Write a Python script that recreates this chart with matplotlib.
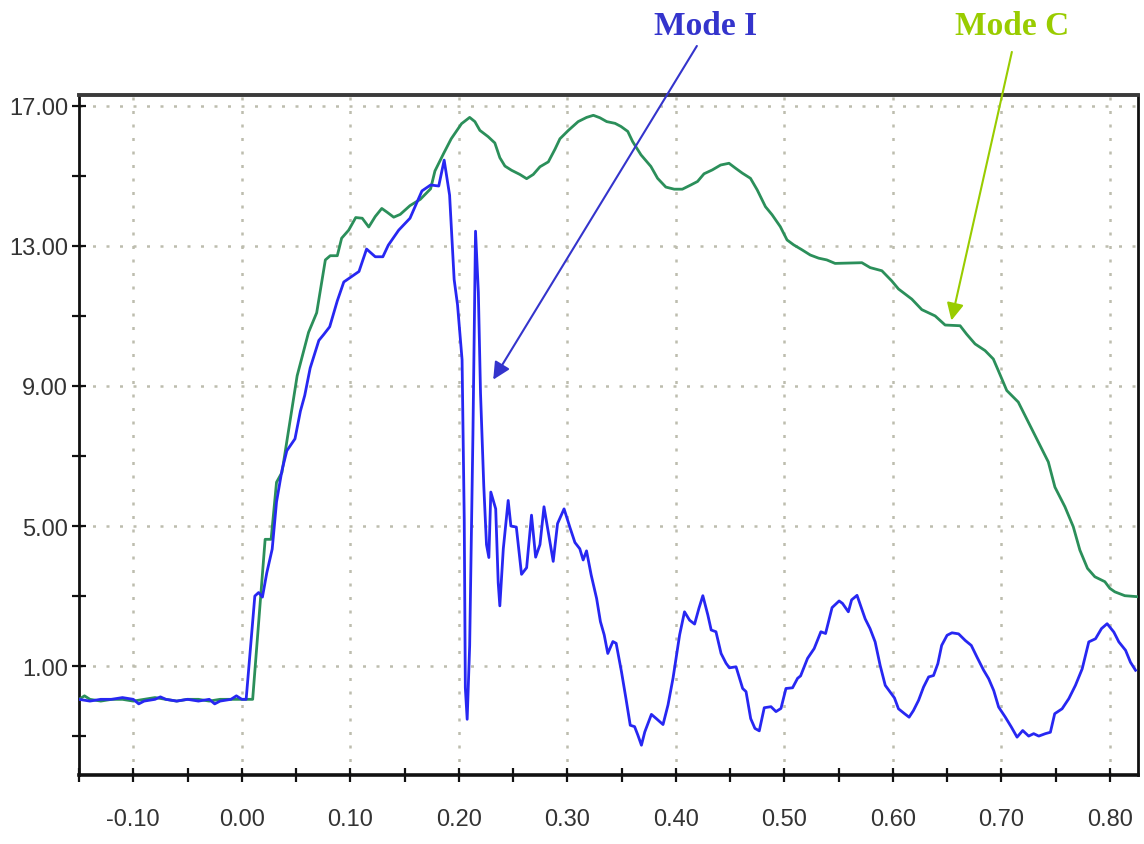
import matplotlib
matplotlib.use("Agg")
import matplotlib.pyplot as plt
from matplotlib.ticker import FixedLocator, FuncFormatter
from matplotlib import font_manager

# ---------------- data ----------------
mode_i_t = [-0.15, -0.14, -0.13, -0.12, -0.11, -0.10, -0.095, -0.09, -0.08, -0.075, -0.07, -0.06,
            -0.05, -0.04, -0.03, -0.025, -0.02, -0.01, -0.005, 0.0, 0.004,
            0.012, 0.0155, 0.019, 0.023, 0.028, 0.032, 0.037, 0.0415, 0.049, 0.054, 0.058, 0.063,
            0.071, 0.0755, 0.081, 0.088, 0.094, 0.100, 0.108, 0.115, 0.123, 0.130, 0.135, 0.1446,
            0.155, 0.166, 0.174, 0.1815, 0.1865, 0.1915, 0.1957, 0.1988, 0.203, 0.205, 0.206,
            0.2077, 0.210, 0.213, 0.2154, 0.218, 0.220, 0.223, 0.2255, 0.2277, 0.2295, 0.234,
            0.2363, 0.2378, 0.241, 0.2455, 0.248, 0.253, 0.2578, 0.2625, 0.267, 0.2708, 0.2748,
            0.2785, 0.2831, 0.287, 0.291, 0.297, 0.3025, 0.307, 0.3115, 0.3146, 0.3177, 0.322,
            0.327, 0.3305, 0.334, 0.3373, 0.342, 0.345, 0.3499, 0.354, 0.358, 0.362, 0.365,
            0.3683, 0.3714, 0.3775, 0.382, 0.3882, 0.3928, 0.3974, 0.4035, 0.408, 0.4127, 0.4173,
            0.4213, 0.4249, 0.4295, 0.4326, 0.437, 0.4417, 0.4463, 0.4494, 0.4555, 0.4616, 0.4647,
            0.469, 0.4729, 0.4769, 0.4815, 0.4877, 0.4923, 0.4969, 0.5015, 0.5076, 0.5122, 0.515,
            0.5214, 0.5275, 0.5337, 0.538, 0.544, 0.5505, 0.5536, 0.559, 0.562, 0.567, 0.5745,
            0.579, 0.5837, 0.5883, 0.593, 0.5975, 0.6015, 0.6052, 0.6108, 0.615, 0.619, 0.6237,
            0.6283, 0.633, 0.6375, 0.6415, 0.645, 0.650, 0.6545, 0.6606, 0.6668, 0.6723, 0.6775,
            0.6837, 0.6883, 0.693, 0.6975, 0.7037, 0.7092, 0.7145, 0.7197, 0.7252, 0.7298, 0.7345,
            0.7406, 0.7452, 0.7492, 0.756, 0.7622, 0.7683, 0.7745, 0.7806, 0.7868, 0.7923, 0.7975,
            0.8037, 0.8083, 0.8145, 0.819, 0.8237]
mode_i_v = [0.05, 0.0, 0.05, 0.05, 0.1, 0.05, -0.08, 0.0, 0.05, 0.12, 0.05, 0.0,
            0.05, 0.0, 0.05, -0.08, 0.0, 0.05, 0.15, 0.05, 0.05,
            3.0, 3.1, 2.97, 3.66, 4.34, 5.69, 6.59, 7.15, 7.49, 8.28, 8.73, 9.51,
            10.3, 10.47, 10.69, 11.43, 11.97, 12.1, 12.27, 12.91, 12.69, 12.69, 13.02, 13.45,
            13.79, 14.57, 14.74, 14.71, 15.45, 14.45, 12.04, 11.32, 9.75, 5.19, 0.38,
            -0.52, 1.58, 7.6, 13.42, 11.68, 8.8, 6.15, 4.47, 4.1, 5.97, 5.49,
            3.38, 2.72, 4.35, 5.73, 5.0, 4.97, 3.62, 3.81, 5.31, 4.11, 4.47,
            5.55, 4.71, 3.99, 5.07, 5.49, 4.95, 4.53, 4.35, 4.03, 4.29, 3.6,
            2.93, 2.27, 1.89, 1.36, 1.7, 1.65, 0.84, 0.08, -0.69, -0.73, -0.97,
            -1.26, -0.88, -0.38, -0.5, -0.67, -0.11, 0.65, 1.89, 2.55, 2.31, 2.2,
            2.65, 3.01, 2.46, 2.03, 1.98, 1.36, 1.08, 0.95, 0.98, 0.36, 0.27,
            -0.5, -0.78, -0.85, -0.19, -0.16, -0.3, -0.21, 0.36, 0.38, 0.65, 0.72,
            1.22, 1.5, 1.98, 1.93, 2.67, 2.86, 2.79, 2.55, 2.89, 3.02, 2.35,
            2.07, 1.69, 1.02, 0.45, 0.26, 0.09, -0.22, -0.36, -0.46, -0.27, 0.02,
            0.4, 0.69, 0.73, 1.07, 1.59, 1.88, 1.95, 1.92, 1.73, 1.59, 1.26,
            0.88, 0.64, 0.3, -0.17, -0.46, -0.74, -1.03, -0.84, -1.0, -0.93, -1.0,
            -0.93, -0.89, -0.36, -0.22, 0.07, 0.45, 0.92, 1.69, 1.78, 2.07, 2.21,
            1.97, 1.69, 1.45, 1.11, 0.88]

mode_c_t = [-0.15, -0.145, -0.14, -0.13, -0.12, -0.11, -0.10, -0.09, -0.08, -0.07, -0.06, -0.05,
            -0.04, -0.03, -0.02, -0.01, 0.0, 0.010,
            0.0215, 0.027, 0.032, 0.037, 0.043, 0.051, 0.0615, 0.069, 0.077, 0.0815, 0.088,
            0.092, 0.0985, 0.105, 0.111, 0.117, 0.123, 0.129, 0.134, 0.140, 0.146, 0.155,
            0.1645, 0.174, 0.178, 0.186, 0.193, 0.2025, 0.210, 0.2148, 0.2194, 0.227, 0.2332,
            0.2378, 0.2425, 0.2486, 0.2563, 0.2625, 0.2686, 0.2748, 0.2825, 0.2886, 0.2932,
            0.301, 0.310, 0.3178, 0.324, 0.330, 0.3363, 0.344, 0.3495, 0.3557, 0.3602, 0.3679,
            0.377, 0.3832, 0.3908, 0.3985, 0.406, 0.4138, 0.420, 0.426, 0.4336, 0.4413, 0.449,
            0.455, 0.4612, 0.4688, 0.475, 0.4826, 0.4887, 0.4963, 0.5025, 0.5086, 0.5162,
            0.5239, 0.5316, 0.5391, 0.5468, 0.5715, 0.5791, 0.5899, 0.599, 0.6052, 0.6175,
            0.6267, 0.639, 0.6482, 0.662, 0.668, 0.6758, 0.685, 0.6926, 0.6972, 0.705, 0.7156,
            0.7248, 0.734, 0.7433, 0.7494, 0.7586, 0.7663, 0.7724, 0.7794, 0.7862, 0.7954,
            0.800, 0.8046, 0.8138, 0.826]
mode_c_v = [0.05, 0.15, 0.05, 0.0, 0.05, 0.05, 0.0, 0.05, 0.1, 0.05, 0.0, 0.05,
            0.05, 0.0, 0.05, 0.05, 0.05, 0.05,
            4.62, 4.62, 6.25, 6.53, 7.71, 9.29, 10.53, 11.09, 12.6, 12.72, 12.72,
            13.22, 13.45, 13.81, 13.79, 13.54, 13.84, 14.07, 13.96, 13.82, 13.9, 14.15,
            14.33, 14.63, 15.14, 15.64, 16.06, 16.49, 16.67, 16.55, 16.3, 16.12, 15.94,
            15.52, 15.28, 15.16, 15.04, 14.92, 15.04, 15.26, 15.4, 15.76, 16.06,
            16.3, 16.55, 16.67, 16.73, 16.66, 16.55, 16.5, 16.41, 16.27, 15.98, 15.6,
            15.27, 14.93, 14.68, 14.62, 14.62, 14.74, 14.84, 15.06, 15.17, 15.31, 15.36,
            15.22, 15.08, 14.93, 14.6, 14.12, 13.89, 13.55, 13.17, 13.03, 12.89,
            12.74, 12.65, 12.6, 12.5, 12.52, 12.38, 12.29, 12.0, 11.77, 11.48,
            11.18, 11.0, 10.74, 10.72, 10.48, 10.2, 10.01, 9.77, 9.44, 8.87, 8.54,
            7.97, 7.4, 6.83, 6.11, 5.55, 4.98, 4.31, 3.79, 3.55, 3.41,
            3.22, 3.12, 3.01, 2.98]

x_major = [-0.10, 0.00, 0.10, 0.20, 0.30, 0.40, 0.50, 0.60, 0.70, 0.80]
x_minor = [-0.15, -0.05, 0.05, 0.15, 0.25, 0.35, 0.45, 0.55, 0.65, 0.75]
y_major = [1.0, 5.0, 9.0, 13.0, 17.0]
y_minor = [-1.0, 3.0, 7.0, 11.0, 15.0]

label_i = "Mode I"
label_c = "Mode C"

# ---------------- style ----------------
names = {f.name for f in font_manager.fontManager.ttflist}
tick_font = "Liberation Sans Narrow" if "Liberation Sans Narrow" in names else "Liberation Sans"
tick_size = 21 if tick_font == "Liberation Sans Narrow" else 17

blue = "#2727f2"
green = "#2b8f5a"
grid_col = "#bdbdae"

fig = plt.figure(figsize=(11.44, 8.45), dpi=100)
ax = fig.add_axes([0.0691, 0.0817, 0.9257, 0.8047])

ax.plot(mode_c_t, mode_c_v, color=green, lw=2.0, solid_joinstyle="round", zorder=3)
ax.plot(mode_i_t, mode_i_v, color=blue, lw=2.0, solid_joinstyle="round", zorder=4)

ax.set_xlim(-0.15, 0.826)
ax.set_ylim(-2.11, 17.31)

ax.xaxis.set_major_locator(FixedLocator(x_major))
ax.xaxis.set_minor_locator(FixedLocator(x_minor))
ax.yaxis.set_major_locator(FixedLocator(y_major))
ax.yaxis.set_minor_locator(FixedLocator(y_minor))
ax.xaxis.set_major_formatter(FuncFormatter(lambda v, p: f"{v:.2f}"))
ax.yaxis.set_major_formatter(FuncFormatter(lambda v, p: f"{v:.2f}"))

ax.grid(True, which="major", color=grid_col, linestyle=(0, (1.2, 4.2)), lw=1.8, zorder=1)

ax.tick_params(axis="both", which="both", direction="inout", length=10, width=1.6,
               colors="#111111", labelcolor="#333333")
ax.tick_params(axis="x", which="major", pad=19)
ax.tick_params(axis="y", which="major", pad=3)
for lab in ax.get_xticklabels() + ax.get_yticklabels():
    lab.set_fontfamily(tick_font)
    lab.set_fontsize(tick_size)

for side, lw, col in [("left", 2.0, "#111111"), ("bottom", 2.6, "#111111"),
                      ("top", 2.8, "#3a3a3a"), ("right", 2.0, "#111111")]:
    ax.spines[side].set_linewidth(lw)
    ax.spines[side].set_color(col)

# ---------------- annotations ----------------
ann_font = dict(family="Liberation Serif", weight="bold", size=24)
ax.text(0.4276, 19.29, label_i, color="#3434cc", ha="center", va="center",
        clip_on=False, **ann_font)
ax.text(0.7097, 19.29, label_c, color="#99cc00", ha="center", va="center",
        clip_on=False, **ann_font)

ax.annotate("", xy=(0.2317, 9.18), xytext=(0.4194, 18.71), annotation_clip=False,
            arrowprops=dict(arrowstyle="-|>,head_length=0.65,head_width=0.32",
                            mutation_scale=16, color="#3434cc", lw=1.5,
                            shrinkA=0, shrinkB=0))
ax.annotate("", xy=(0.654, 10.87), xytext=(0.7097, 18.54), annotation_clip=False,
            arrowprops=dict(arrowstyle="-|>,head_length=0.65,head_width=0.32",
                            mutation_scale=16, color="#99cc00", lw=1.5,
                            shrinkA=0, shrinkB=0))

fig.savefig("out.png", dpi=100)
